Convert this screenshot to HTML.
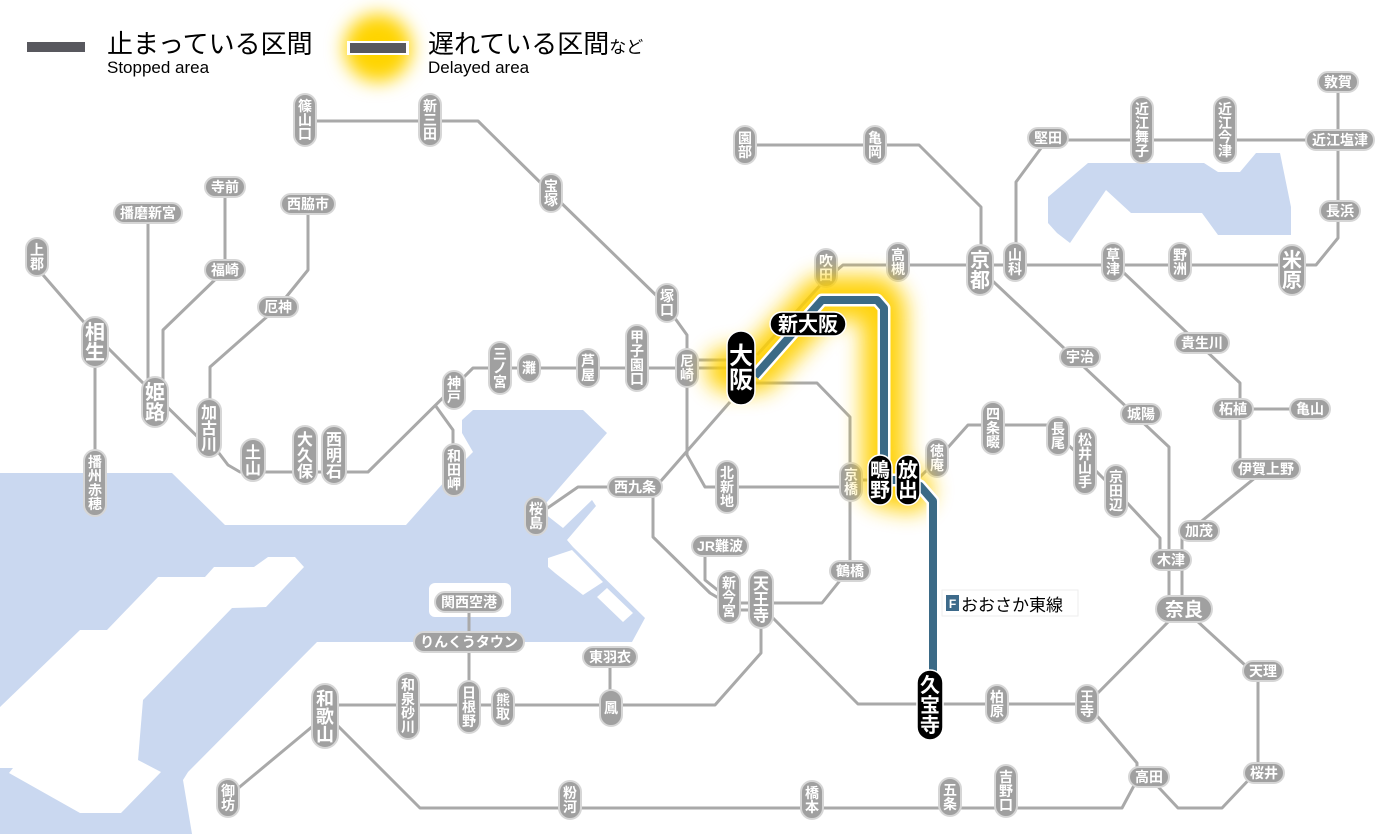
<!DOCTYPE html>
<html><head><meta charset="utf-8"><style>
html,body{margin:0;padding:0;background:#fff;}
svg{display:block;font-family:"Liberation Sans","Noto Sans CJK JP",sans-serif;}
.l{fill:none;stroke:#a9a9a9;stroke-width:3;stroke-linejoin:round}
.p{fill:#a0a0a0;stroke:#d6d6d6;stroke-width:2}
.t{fill:#fff;font-size:14px;text-anchor:middle;font-weight:bold}
.m{fill:#fff;font-size:16px;text-anchor:middle;font-weight:bold}
.b{fill:#fff;font-size:20px;text-anchor:middle;font-weight:bold}
.k{fill:#000;stroke:#fff;stroke-width:1.5}
</style></head><body>
<svg width="1400" height="834" viewBox="0 0 1400 834" xmlns="http://www.w3.org/2000/svg">
<defs><filter id="g" x="-50%" y="-50%" width="200%" height="200%"><feGaussianBlur stdDeviation="11"/></filter>
<filter id="g2" x="-100%" y="-100%" width="300%" height="300%"><feGaussianBlur stdDeviation="9"/></filter></defs>
<!-- water -->
<g fill="#cad8f0">
<path d="M0,473 H172 L225,525 H406 L453,472 L473,452 L462,433 V420 L473,410 H583 L607,433 L540,510 L563,528 L592,500 L596,506 L567,540 L573,547 L645,618 L632,642 H317 L188,772 L183,780 L192,834 H0 Z"/>
<path d="M1048,197 L1088,163 H1204 L1218,172 H1240 L1256,153 H1280 L1291,207 V235 H1218 L1202,213 H1131 L1106,190 L1070,243 L1057,233 L1048,223 Z"/>
</g>
<g fill="#fff">
<path d="M0,707 L80,630 H107 L158,577 H205 L214,567 H254 L268,557 H295 L304,567 L266,607 L232,608 L143,700 L138,760 L161,772 L121,813 H80 L9,773 L13,768 H0 Z"/>
<rect x="429" y="583" width="82" height="34" rx="6"/>
<path d="M548,558 L572,550 L603,582 L583,595 L555,573 L548,567 Z"/>
<path d="M597,597 L607,588 L633,613 L623,622 Z"/>
</g>
<!-- legend -->
<rect x="27" y="42" width="58" height="10" fill="#58585e"/>
<text x="107" y="53" font-size="26" fill="#000">止まっている区間</text>
<text x="107" y="73" font-size="17" fill="#000">Stopped area</text>
<circle cx="378" cy="48" r="34" fill="#ffd400" filter="url(#g2)"/>
<rect x="347" y="41" width="62" height="14" fill="#fff"/>
<rect x="350" y="43" width="56" height="10" fill="#58585e"/>
<text x="428" y="53" font-size="26" fill="#000">遅れている区間<tspan font-size="17">など</tspan></text>
<text x="428" y="73" font-size="17" fill="#000">Delayed area</text>
<!-- lines -->
<g class="l">
<path d="M305,121 H478 L551,193 L664,303 L687,335 V455 L705,487 H851"/>
<path d="M249,472 H368 L473,368 H741"/>
<path d="M687,360 H741"/>
<path d="M209,440 L228,465 L240,472 H249"/>
<path d="M37,268 L95,335 L155,395 L209,448"/>
<path d="M95,355 V490"/>
<path d="M148,213 V395"/>
<path d="M225,187 V270 L163,330 V395"/>
<path d="M308,204 V270 L278,307 L210,367 V428"/>
<path d="M435,405 L453,430 V470"/>
<path d="M536,516 L578,487 H635"/>
<path d="M741,383 H817 L850,417 V568 L822,603 H727 L710,593 L653,537 V490 L730,402"/>
<path d="M727,610 H761"/>
<path d="M705,547 V580 L720,592"/>
<path d="M761,620 V653 L715,705 H330"/>
<path d="M610,657 V706"/>
<path d="M469,602 V707"/>
<path d="M770,615 L858,704 H1087 L1172,618"/>
<path d="M981,270 L1169,447 V600"/>
<path d="M1266,469 L1182,537 V600"/>
<path d="M1116,491 L1160,538 V560"/>
<path d="M1058,436 L1085,460 L1116,491"/>
<path d="M1058,425 H968 L935,462 L915,482"/>
<path d="M851,480 H880"/>
<path d="M757,355 L825,280 L843,265 H1316 L1338,238 V82"/>
<path d="M1016,262 V182 L1047,140 H1340"/>
<path d="M745,145 H919 L981,207 V262"/>
<path d="M1113,262 L1124,273 L1240,383 V470"/>
<path d="M1233,409 H1310"/>
<path d="M1184,609 L1258,677 V770 L1222,808 H1178 L1149,777"/>
<path d="M1087,704 L1137,763 V780 L1122,808 H420 L330,718"/>
<path d="M325,716 L230,795"/>
</g>
<!-- vertical small stations -->
<g>
<rect class="p" x="294" y="94" width="22" height="52" rx="11"/><text class="t" x="305" y="111"><tspan x="305">篠</tspan><tspan x="305" dy="14">山</tspan><tspan x="305" dy="14">口</tspan></text>
<rect class="p" x="419" y="94" width="22" height="52" rx="11"/><text class="t" x="430" y="111"><tspan x="430">新</tspan><tspan x="430" dy="14">三</tspan><tspan x="430" dy="14">田</tspan></text>
<rect class="p" x="540" y="174" width="22" height="38" rx="11"/><text class="t" x="551" y="191"><tspan x="551">宝</tspan><tspan x="551" dy="14">塚</tspan></text>
<rect class="p" x="656" y="284" width="22" height="38" rx="11"/><text class="t" x="667" y="301"><tspan x="667">塚</tspan><tspan x="667" dy="14">口</tspan></text>
<rect class="p" x="676" y="349" width="22" height="38" rx="11"/><text class="t" x="687" y="366"><tspan x="687">尼</tspan><tspan x="687" dy="14">崎</tspan></text>
<rect class="p" x="626" y="325" width="22" height="66" rx="11"/><text class="t" x="637" y="342"><tspan x="637">甲</tspan><tspan x="637" dy="14">子</tspan><tspan x="637" dy="14">園</tspan><tspan x="637" dy="14">口</tspan></text>
<rect class="p" x="577" y="349" width="22" height="38" rx="11"/><text class="t" x="588" y="366"><tspan x="588">芦</tspan><tspan x="588" dy="14">屋</tspan></text>
<rect class="p" x="518" y="354" width="22" height="28" rx="11"/><text class="t" x="529" y="373">灘</text>
<rect class="p" x="489" y="342" width="22" height="52" rx="11"/><text class="t" x="500" y="359"><tspan x="500">三</tspan><tspan x="500" dy="14">ノ</tspan><tspan x="500" dy="14">宮</tspan></text>
<rect class="p" x="443" y="371" width="22" height="38" rx="11"/><text class="t" x="454" y="388"><tspan x="454">神</tspan><tspan x="454" dy="14">戸</tspan></text>
<rect class="p" x="443" y="444" width="22" height="52" rx="11"/><text class="t" x="454" y="461"><tspan x="454">和</tspan><tspan x="454" dy="14">田</tspan><tspan x="454" dy="14">岬</tspan></text>
<rect class="p" x="322" y="426" width="24" height="58" rx="12"/><text class="m" x="334" y="445"><tspan x="334">西</tspan><tspan x="334" dy="16">明</tspan><tspan x="334" dy="16">石</tspan></text>
<rect class="p" x="293" y="426" width="24" height="58" rx="12"/><text class="m" x="305" y="445"><tspan x="305">大</tspan><tspan x="305" dy="16">久</tspan><tspan x="305" dy="16">保</tspan></text>
<rect class="p" x="241" y="439" width="24" height="42" rx="12"/><text class="m" x="253" y="458"><tspan x="253">土</tspan><tspan x="253" dy="16">山</tspan></text>
<rect class="p" x="197" y="399" width="24" height="58" rx="12"/><text class="m" x="209" y="418"><tspan x="209">加</tspan><tspan x="209" dy="16">古</tspan><tspan x="209" dy="16">川</tspan></text>
<rect class="p" x="142" y="377" width="26" height="50" rx="13"/><text class="b" x="155" y="399"><tspan x="155">姫</tspan><tspan x="155" dy="20">路</tspan></text>
<rect class="p" x="82" y="317" width="26" height="50" rx="13"/><text class="b" x="95" y="339"><tspan x="95">相</tspan><tspan x="95" dy="20">生</tspan></text>
<rect class="p" x="26" y="238" width="22" height="38" rx="11"/><text class="t" x="37" y="255"><tspan x="37">上</tspan><tspan x="37" dy="14">郡</tspan></text>
<rect class="p" x="84" y="450" width="22" height="66" rx="11"/><text class="t" x="95" y="467"><tspan x="95">播</tspan><tspan x="95" dy="14">州</tspan><tspan x="95" dy="14">赤</tspan><tspan x="95" dy="14">穂</tspan></text>
<rect class="p" x="734" y="126" width="22" height="38" rx="11"/><text class="t" x="745" y="143"><tspan x="745">園</tspan><tspan x="745" dy="14">部</tspan></text>
<rect class="p" x="864" y="126" width="22" height="38" rx="11"/><text class="t" x="875" y="143"><tspan x="875">亀</tspan><tspan x="875" dy="14">岡</tspan></text>
<rect class="p" x="967" y="245" width="26" height="50" rx="13"/><text class="b" x="980" y="267"><tspan x="980">京</tspan><tspan x="980" dy="20">都</tspan></text>
<rect class="p" x="1004" y="243" width="22" height="38" rx="11"/><text class="t" x="1015" y="260"><tspan x="1015">山</tspan><tspan x="1015" dy="14">科</tspan></text>
<rect class="p" x="1131" y="97" width="22" height="66" rx="11"/><text class="t" x="1142" y="114"><tspan x="1142">近</tspan><tspan x="1142" dy="14">江</tspan><tspan x="1142" dy="14">舞</tspan><tspan x="1142" dy="14">子</tspan></text>
<rect class="p" x="1214" y="97" width="22" height="66" rx="11"/><text class="t" x="1225" y="114"><tspan x="1225">近</tspan><tspan x="1225" dy="14">江</tspan><tspan x="1225" dy="14">今</tspan><tspan x="1225" dy="14">津</tspan></text>
<rect class="p" x="1279" y="245" width="26" height="50" rx="13"/><text class="b" x="1292" y="267"><tspan x="1292">米</tspan><tspan x="1292" dy="20">原</tspan></text>
<rect class="p" x="1169" y="243" width="22" height="38" rx="11"/><text class="t" x="1180" y="260"><tspan x="1180">野</tspan><tspan x="1180" dy="14">洲</tspan></text>
<rect class="p" x="1102" y="243" width="22" height="38" rx="11"/><text class="t" x="1113" y="260"><tspan x="1113">草</tspan><tspan x="1113" dy="14">津</tspan></text>
<rect class="p" x="887" y="243" width="22" height="38" rx="11"/><text class="t" x="898" y="260"><tspan x="898">高</tspan><tspan x="898" dy="14">槻</tspan></text>
<rect class="p" x="815" y="249" width="22" height="38" rx="11"/><text class="t" x="826" y="266"><tspan x="826">吹</tspan><tspan x="826" dy="14">田</tspan></text>
<rect class="p" x="1076" y="685" width="22" height="38" rx="11"/><text class="t" x="1087" y="702"><tspan x="1087">王</tspan><tspan x="1087" dy="14">寺</tspan></text>
<rect class="p" x="986" y="685" width="22" height="38" rx="11"/><text class="t" x="997" y="702"><tspan x="997">柏</tspan><tspan x="997" dy="14">原</tspan></text>
<rect class="p" x="995" y="765" width="22" height="52" rx="11"/><text class="t" x="1006" y="782"><tspan x="1006">吉</tspan><tspan x="1006" dy="14">野</tspan><tspan x="1006" dy="14">口</tspan></text>
<rect class="p" x="939" y="778" width="22" height="38" rx="11"/><text class="t" x="950" y="795"><tspan x="950">五</tspan><tspan x="950" dy="14">条</tspan></text>
<rect class="p" x="801" y="781" width="22" height="38" rx="11"/><text class="t" x="812" y="798"><tspan x="812">橋</tspan><tspan x="812" dy="14">本</tspan></text>
<rect class="p" x="559" y="781" width="22" height="38" rx="11"/><text class="t" x="570" y="798"><tspan x="570">粉</tspan><tspan x="570" dy="14">河</tspan></text>
<rect class="p" x="217" y="779" width="22" height="38" rx="11"/><text class="t" x="228" y="796"><tspan x="228">御</tspan><tspan x="228" dy="14">坊</tspan></text>
<rect class="p" x="312" y="684" width="26" height="64" rx="13"/><text class="b" style="font-size:18px" x="325" y="705"><tspan x="325">和</tspan><tspan x="325" dy="18">歌</tspan><tspan x="325" dy="18">山</tspan></text>
<rect class="p" x="397" y="673" width="22" height="66" rx="11"/><text class="t" x="408" y="690"><tspan x="408">和</tspan><tspan x="408" dy="14">泉</tspan><tspan x="408" dy="14">砂</tspan><tspan x="408" dy="14">川</tspan></text>
<rect class="p" x="458" y="681" width="22" height="52" rx="11"/><text class="t" x="469" y="698"><tspan x="469">日</tspan><tspan x="469" dy="14">根</tspan><tspan x="469" dy="14">野</tspan></text>
<rect class="p" x="492" y="688" width="22" height="38" rx="11"/><text class="t" x="503" y="705"><tspan x="503">熊</tspan><tspan x="503" dy="14">取</tspan></text>
<rect class="p" x="600" y="690" width="22" height="36" rx="11"/><text class="t" x="611" y="713">鳳</text>
<rect class="p" x="525" y="497" width="22" height="38" rx="11"/><text class="t" x="536" y="514"><tspan x="536">桜</tspan><tspan x="536" dy="14">島</tspan></text>
<rect class="p" x="716" y="461" width="22" height="52" rx="11"/><text class="t" x="727" y="478"><tspan x="727">北</tspan><tspan x="727" dy="14">新</tspan><tspan x="727" dy="14">地</tspan></text>
<rect class="p" x="840" y="463" width="22" height="38" rx="11"/><text class="t" x="851" y="480"><tspan x="851">京</tspan><tspan x="851" dy="14">橋</tspan></text>
<rect class="p" x="718" y="571" width="22" height="52" rx="11"/><text class="t" x="729" y="588"><tspan x="729">新</tspan><tspan x="729" dy="14">今</tspan><tspan x="729" dy="14">宮</tspan></text>
<rect class="p" x="749" y="570" width="24" height="58" rx="12"/><text class="m" x="761" y="589"><tspan x="761">天</tspan><tspan x="761" dy="16">王</tspan><tspan x="761" dy="16">寺</tspan></text>
<rect class="p" x="926" y="439" width="22" height="38" rx="11"/><text class="t" x="937" y="456"><tspan x="937">徳</tspan><tspan x="937" dy="14">庵</tspan></text>
<rect class="p" x="982" y="402" width="22" height="52" rx="11"/><text class="t" x="993" y="419"><tspan x="993">四</tspan><tspan x="993" dy="14">条</tspan><tspan x="993" dy="14">畷</tspan></text>
<rect class="p" x="1047" y="417" width="22" height="38" rx="11"/><text class="t" x="1058" y="434"><tspan x="1058">長</tspan><tspan x="1058" dy="14">尾</tspan></text>
<rect class="p" x="1074" y="428" width="22" height="66" rx="11"/><text class="t" x="1085" y="445"><tspan x="1085">松</tspan><tspan x="1085" dy="14">井</tspan><tspan x="1085" dy="14">山</tspan><tspan x="1085" dy="14">手</tspan></text>
<rect class="p" x="1105" y="465" width="22" height="52" rx="11"/><text class="t" x="1116" y="482"><tspan x="1116">京</tspan><tspan x="1116" dy="14">田</tspan><tspan x="1116" dy="14">辺</tspan></text>
</g>
<!-- horizontal stations -->
<g>
<rect class="p" x="114" y="203" width="68" height="20" rx="10"/><text class="t" x="148" y="218">播磨新宮</text>
<rect class="p" x="205" y="177" width="40" height="20" rx="10"/><text class="t" x="225" y="192">寺前</text>
<rect class="p" x="205" y="260" width="40" height="20" rx="10"/><text class="t" x="225" y="275">福崎</text>
<rect class="p" x="281" y="194" width="54" height="20" rx="10"/><text class="t" x="308" y="209">西脇市</text>
<rect class="p" x="258" y="297" width="40" height="20" rx="10"/><text class="t" x="278" y="312">厄神</text>
<rect class="p" x="1028" y="128" width="40" height="20" rx="10"/><text class="t" x="1048" y="143">堅田</text>
<rect class="p" x="1318" y="72" width="40" height="20" rx="10"/><text class="t" x="1338" y="87">敦賀</text>
<rect class="p" x="1306" y="130" width="68" height="20" rx="10"/><text class="t" x="1340" y="145">近江塩津</text>
<rect class="p" x="1320" y="201" width="40" height="20" rx="10"/><text class="t" x="1340" y="216">長浜</text>
<rect class="p" x="1060" y="347" width="40" height="20" rx="10"/><text class="t" x="1080" y="362">宇治</text>
<rect class="p" x="1175" y="333" width="54" height="20" rx="10"/><text class="t" x="1202" y="348">貴生川</text>
<rect class="p" x="1121" y="404" width="40" height="20" rx="10"/><text class="t" x="1141" y="419">城陽</text>
<rect class="p" x="1213" y="399" width="40" height="20" rx="10"/><text class="t" x="1233" y="414">柘植</text>
<rect class="p" x="1290" y="399" width="40" height="20" rx="10"/><text class="t" x="1310" y="414">亀山</text>
<rect class="p" x="1232" y="459" width="68" height="20" rx="10"/><text class="t" x="1266" y="474">伊賀上野</text>
<rect class="p" x="1179" y="521" width="40" height="20" rx="10"/><text class="t" x="1199" y="536">加茂</text>
<rect class="p" x="1151" y="550" width="40" height="20" rx="10"/><text class="t" x="1171" y="565">木津</text>
<rect class="p" x="1156" y="596" width="56" height="26" rx="13"/><text class="b" style="font-size:19px" x="1184" y="616">奈良</text>
<rect class="p" x="1243" y="661" width="40" height="20" rx="10"/><text class="t" x="1263" y="676">天理</text>
<rect class="p" x="1244" y="763" width="40" height="20" rx="10"/><text class="t" x="1264" y="778">桜井</text>
<rect class="p" x="1129" y="767" width="40" height="20" rx="10"/><text class="t" x="1149" y="782">高田</text>
<rect class="p" x="583" y="647" width="54" height="20" rx="10"/><text class="t" x="610" y="662">東羽衣</text>
<rect class="p" x="414" y="632" width="110" height="20" rx="10"/><text class="t" x="469" y="647">りんくうタウン</text>
<rect class="p" x="435" y="592" width="68" height="20" rx="10"/><text class="t" x="469" y="607">関西空港</text>
<rect class="p" x="608" y="477" width="54" height="20" rx="10"/><text class="t" x="635" y="492">西九条</text>
<rect class="p" x="692" y="536" width="56" height="20" rx="10"/><text class="t" x="720" y="551">JR難波</text>
<rect class="p" x="830" y="561" width="40" height="20" rx="10"/><text class="t" x="850" y="576">鶴橋</text>
</g>
<!-- glow -->
<path d="M728,370 L757,370 L822,298 L877,298 L884,308 V485 L910,490" fill="none" stroke="#ffd000" stroke-width="44" stroke-linejoin="round" stroke-linecap="round" filter="url(#g)" opacity="0.95"/>
<!-- blue line -->
<path d="M755,376 L822,300 H877 L884,308 V480 H908 L920,486 L933,501 V690" fill="none" stroke="#fff" stroke-width="13" stroke-linejoin="round"/>
<path d="M755,376 L822,300 H877 L884,308 V480 H908 L920,486 L933,501 V690" fill="none" stroke="#3b6a86" stroke-width="8" stroke-linejoin="round"/>
<!-- black stations -->
<rect class="k" x="917" y="670" width="26" height="70" rx="13"/><text class="b" x="930" y="692"><tspan x="930">久</tspan><tspan x="930" dy="20">宝</tspan><tspan x="930" dy="20">寺</tspan></text>
<rect class="k" x="868" y="455" width="24" height="50" rx="12"/><text class="b" x="880" y="477"><tspan x="880">鴫</tspan><tspan x="880" dy="20">野</tspan></text>
<rect class="k" x="896" y="455" width="24" height="50" rx="12"/><text class="b" x="908" y="477"><tspan x="908">放</tspan><tspan x="908" dy="20">出</tspan></text>
<rect class="k" x="727" y="331" width="28" height="74" rx="14"/><text class="b" style="font-size:24px" x="741" y="364"><tspan x="741">大</tspan><tspan x="741" dy="24">阪</tspan></text>
<rect class="k" x="770" y="312" width="76" height="24" rx="12"/><text class="b" x="808" y="331">新大阪</text>
<!-- F label -->
<rect x="942" y="590" width="136" height="26" fill="#fff" stroke="#eee"/>
<rect x="946" y="595" width="13" height="16" fill="#3d6a8a"/>
<text x="952.5" y="608" font-size="12" fill="#fff" text-anchor="middle" font-weight="bold">F</text>
<text x="961" y="611" font-size="17" fill="#000">おおさか東線</text>
</svg>
</body></html>
